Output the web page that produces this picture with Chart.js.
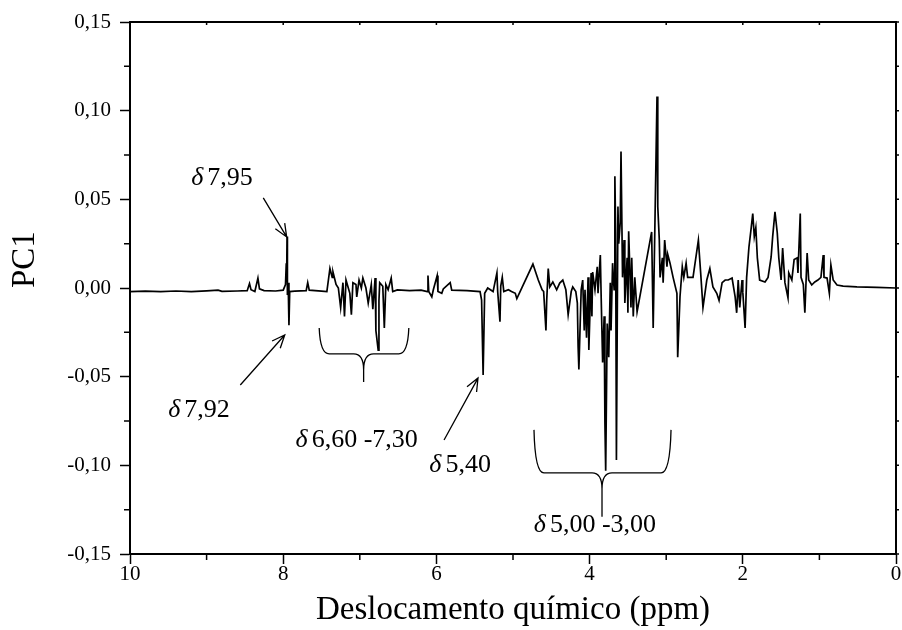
<!DOCTYPE html>
<html>
<head>
<meta charset="utf-8">
<script src="https://cdn.jsdelivr.net/npm/chart.js@4.4.0/dist/chart.umd.min.js"></script>
<style>
  html, body { margin: 0; padding: 0; background: #fff; }
</style>
</head>
<body>
<canvas id="myChart" width="902" height="630"></canvas>
<script>
// chemical shift (ppm) and PC1 loading
const ppm = [
  10.00, 9.80, 9.60, 9.40, 9.20, 9.00, 8.85, 8.80, 8.60, 8.47, 8.44, 8.42, 8.37, 8.33, 8.31, 8.25, 8.10,
  8.00, 7.97, 7.96, 7.955, 7.950, 7.945, 7.935, 7.925, 7.915, 7.85, 7.70, 7.68, 7.66, 7.50, 7.43,
  7.39, 7.36, 7.35, 7.31, 7.28, 7.25, 7.22, 7.20, 7.18, 7.15, 7.13, 7.11, 7.09, 7.05, 7.04, 7.01,
  6.98, 6.96, 6.92, 6.89, 6.85, 6.83, 6.80, 6.79, 6.76, 6.75, 6.74, 6.70, 6.68, 6.66, 6.63, 6.59,
  6.57, 6.51, 6.35, 6.20, 6.12, 6.11, 6.10, 6.06, 6.04, 5.99, 5.98, 5.93, 5.91, 5.82, 5.80, 5.60,
  5.43, 5.41, 5.39, 5.37, 5.33, 5.26, 5.21, 5.20, 5.17, 5.16, 5.14, 5.12, 5.06, 5.02, 4.97, 4.95,
  4.74, 4.67, 4.62, 4.60, 4.57, 4.56, 4.54, 4.52, 4.48, 4.43, 4.39, 4.35, 4.31, 4.28, 4.24, 4.22,
  4.18, 4.16, 4.15, 4.14, 4.11, 4.09, 4.07, 4.06, 4.04, 4.02, 4.01, 3.98, 3.97, 3.96, 3.93, 3.90,
  3.89, 3.86, 3.85, 3.83, 3.81, 3.80, 3.79, 3.77, 3.75, 3.73, 3.72, 3.70, 3.68, 3.67, 3.66, 3.65,
  3.63, 3.62, 3.60, 3.59, 3.57, 3.55, 3.54, 3.51, 3.50, 3.49, 3.46, 3.45, 3.43, 3.41, 3.38,
  3.19, 3.17, 3.15, 3.12, 3.11, 3.09, 3.08, 3.05, 3.04, 3.02, 2.99, 2.98, 2.95, 2.91, 2.86, 2.85,
  2.82, 2.79, 2.77, 2.74, 2.72, 2.65, 2.58, 2.55, 2.52, 2.47, 2.43, 2.39, 2.34, 2.31, 2.27, 2.23,
  2.19, 2.14, 2.10, 2.08, 2.06, 2.04, 2.01, 2.00, 1.97, 1.95, 1.92, 1.89, 1.87, 1.85, 1.83, 1.81,
  1.78, 1.71, 1.67, 1.63, 1.61, 1.58, 1.55, 1.53, 1.50, 1.48, 1.45, 1.41, 1.40, 1.36, 1.33, 1.29,
  1.28, 1.25, 1.24, 1.21, 1.19, 1.16, 1.14, 1.10, 1.06, 1.02, 0.98, 0.95, 0.94, 0.90, 0.87, 0.85,
  0.82, 0.77, 0.69, 0.51, 0.25, 0.00
];
const pc1 = [
  -0.0020, -0.0018, -0.0021, -0.0017, -0.0020, -0.0016, -0.0012, -0.0019, -0.0017, -0.0015, 0.0025, -0.0010, -0.0020, 0.0056, -0.0005, -0.0015, -0.0017,
  -0.0012, 0.0020, 0.0140, 0.0050, 0.0290, -0.0040, 0.0030, -0.0210, -0.0020, -0.0018, -0.0015, 0.0030, -0.0012, -0.0018, -0.0020,
  0.0110, 0.0060, 0.0090, 0.0020, 0.0000, -0.0110, 0.0030, -0.0160, 0.0045, 0.0000, -0.0030, -0.0150, 0.0030, 0.0020, -0.0050, 0.0045,
  0.0000, 0.0056, 0.0000, -0.0085, 0.0020, -0.0120, 0.0056, -0.0240, -0.0350, -0.0070, 0.0030, 0.0010, -0.0225, 0.0020, -0.0010, 0.0056,
  -0.0020, -0.0011, -0.0015, -0.0012, -0.0020, 0.0070, -0.0020, -0.0050, -0.0010, 0.0070, -0.0020, -0.0030, -0.0005, 0.0030, -0.0012, -0.0015,
  -0.0020, -0.0068, -0.0490, -0.0030, 0.0000, -0.0020, 0.0085, -0.0020, -0.0190, 0.0011, 0.0060, -0.0020, -0.0010, -0.0020, -0.0030, -0.0060,
  0.0135, 0.0045, -0.0010, -0.0020, -0.0240, -0.0070, 0.0110, 0.0006, 0.0034, -0.0010, 0.0028, 0.0045, -0.0010, -0.0150, -0.0020, 0.0006,
  -0.0020, -0.0085, -0.0330, -0.0460, -0.0010, 0.0045, -0.0240, -0.0010, -0.0280, 0.0060, -0.0350, 0.0085, -0.0160, 0.0090, -0.0010, 0.0120,
  -0.0030, 0.0186, -0.0030, -0.0420, -0.0160, -0.0760, -0.1030, -0.0200, -0.0390, 0.0030, -0.0240, 0.0140, -0.0010, 0.0630, 0.0310, -0.0970,
  0.0460, 0.0250, 0.0370, 0.0770, 0.0060, 0.0270, -0.0085, 0.0170, -0.0140, 0.0320, -0.0110, 0.0170, -0.0160, 0.0060, -0.0135,
  0.0316, -0.0225, 0.0290, 0.1080, 0.0460, 0.0270, 0.0060, 0.0170, 0.0030, 0.0270, 0.0120, 0.0190, 0.0140, 0.0060, -0.0030, -0.0390,
  -0.0050, 0.0120, 0.0060, 0.0140, 0.0060, 0.0060, 0.0270, 0.0085, -0.0110, 0.0045, 0.0110, 0.0006, -0.0030, -0.0070, 0.0030, 0.0045,
  0.0045, 0.0056, -0.0050, -0.0140, 0.0045, -0.0110, 0.0045, -0.0023, -0.0225, 0.0060, 0.0230, 0.0340, 0.0420, 0.0290, 0.0340, 0.0170,
  0.0045, 0.0034, 0.0060, 0.0175, 0.0290, 0.0430, 0.0310, 0.0170, 0.0045, 0.0225, 0.0030, -0.0056, 0.0085, 0.0045, 0.0160, 0.0170,
  0.0085, 0.0420, 0.0060, 0.0020, -0.0140, 0.0197, 0.0045, 0.0017, 0.0034, 0.0045, 0.0060, 0.0186, 0.0060, 0.0056, -0.0030, 0.0130,
  0.0045, 0.0017, 0.0011, 0.0006, 0.0003, 0.0000
];

const xTicks = [10, 8, 6, 4, 2, 0];
const xMinor = [9, 7, 5, 3, 1];
const yTicks = [-0.15, -0.10, -0.05, 0, 0.05, 0.10, 0.15];
const yMinor = [-0.125, -0.075, -0.025, 0.025, 0.075, 0.125];

// annotations, in data units (ppm, PC1)
const arrowFrom = [[8.26, 0.0508], [8.56, -0.0547], [5.90, -0.0857]];
const arrowTo   = [[7.955, 0.0288], [7.98, -0.0265], [5.457, -0.0508]];
const labelText = ['7,95', '7,92', '6,60 -7,30', '5,40', '5,00 -3,00'];
const labelPos  = [[8.80, 0.062], [9.10, -0.0688], [7.04, -0.0857], [5.69, -0.0998], [3.93, -0.1337]];
// braces: [left ppm, right ppm, centre ppm, top, bar, tip]
const braces = [[7.53, 6.36, 6.95, -0.0226, -0.0372, -0.0530], [4.726, 2.937, 3.838, -0.0800, -0.1043, -0.1290]];

const serif = '"Liberation Serif", "DejaVu Serif", serif';

const decor = {
  id: 'decor',
  afterDraw(chart) {
    const ctx = chart.ctx;
    const xs = chart.scales.x, ys = chart.scales.y;
    const a = chart.chartArea;
    const px = v => xs.getPixelForValue(v);
    const py = v => ys.getPixelForValue(v);
    ctx.save();
    ctx.strokeStyle = '#000';
    ctx.lineWidth = 2;
    ctx.strokeRect(a.left, a.top, a.right - a.left, a.bottom - a.top);

    // minor ticks + small mirrored ticks on top / right
    ctx.lineWidth = 1.5;
    ctx.beginPath();
    xMinor.forEach(v => { ctx.moveTo(px(v), a.bottom); ctx.lineTo(px(v), a.bottom + 6); });
    yMinor.forEach(v => { ctx.moveTo(a.left, py(v)); ctx.lineTo(a.left - 6, py(v)); });
    yTicks.concat(yMinor).forEach(v => { ctx.moveTo(a.right, py(v)); ctx.lineTo(a.right + 3, py(v)); });
    xTicks.concat(xMinor).forEach(v => { ctx.moveTo(px(v), a.top); ctx.lineTo(px(v), a.top + 3); });
    ctx.stroke();

    // arrows
    ctx.lineWidth = 1.3;
    arrowFrom.forEach((f, i) => {
      const x1 = px(f[0]), y1 = py(f[1]);
      const x2 = px(arrowTo[i][0]), y2 = py(arrowTo[i][1]);
      const ang = Math.atan2(y2 - y1, x2 - x1);
      ctx.beginPath();
      ctx.moveTo(x1, y1); ctx.lineTo(x2, y2);
      ctx.moveTo(x2 - 14 * Math.cos(ang - 0.4), y2 - 14 * Math.sin(ang - 0.4));
      ctx.lineTo(x2, y2);
      ctx.lineTo(x2 - 14 * Math.cos(ang + 0.4), y2 - 14 * Math.sin(ang + 0.4));
      ctx.stroke();
    });

    // braces
    braces.forEach(b => {
      const L = px(b[0]), R = px(b[1]), C = px(b[2]);
      const top = py(b[3]), bar = py(b[4]), tip = py(b[5]);
      ctx.beginPath();
      ctx.moveTo(L, top);
      ctx.quadraticCurveTo(L + 1, bar, L + 10, bar);
      ctx.lineTo(C - 10, bar);
      ctx.quadraticCurveTo(C, bar, C, bar + 16);
      ctx.lineTo(C, tip);
      ctx.moveTo(C, bar + 16);
      ctx.quadraticCurveTo(C, bar, C + 10, bar);
      ctx.lineTo(R - 10, bar);
      ctx.quadraticCurveTo(R - 1, bar, R, top);
      ctx.stroke();
    });

    // labels
    ctx.fillStyle = '#000';
    ctx.textBaseline = 'middle';
    ctx.textAlign = 'left';
    labelText.forEach((t, i) => {
      const cx = px(labelPos[i][0]), cy = py(labelPos[i][1]);
      ctx.font = 'italic 26px ' + serif;
      const wd = ctx.measureText('δ').width + 4;
      ctx.font = '26px ' + serif;
      const wt = ctx.measureText(t).width;
      const x0 = cx - (wd + wt) / 2;
      ctx.font = 'italic 26px ' + serif;
      ctx.fillText('δ', x0, cy);
      ctx.font = '26px ' + serif;
      ctx.fillText(t, x0 + wd, cy);
    });

    // y axis title
    ctx.save();
    ctx.translate(25, py(0.016));
    ctx.rotate(-Math.PI / 2);
    ctx.textAlign = 'center';
    ctx.font = '33px ' + serif;
    ctx.fillText('PC1', 0, 0);
    ctx.restore();
    ctx.restore();
  }
};

const ctx = document.getElementById('myChart');
new Chart(ctx, {
  type: 'line',
  data: {
    datasets: [{
      data: ppm.map((x, i) => ({ x: x, y: pc1[i] })),
      borderColor: '#000',
      borderWidth: 1.7,
      pointRadius: 0,
      tension: 0,
      fill: false
    }]
  },
  options: {
    responsive: false,
    animation: false,
    layout: { padding: { top: 22, right: 6, left: 0, bottom: 0 } },
    plugins: { legend: { display: false }, tooltip: { enabled: false } },
    scales: {
      x: {
        type: 'linear',
        reverse: true,
        min: 0,
        max: 10,
        afterBuildTicks: s => { s.ticks = xTicks.map(v => ({ value: v })); },
        afterFit: s => { s.height = 76; },
        ticks: {
          color: '#000',
          font: { family: serif, size: 21 },
          padding: -2,
          maxRotation: 0,
          callback: v => String(v)
        },
        grid: { drawOnChartArea: false, tickLength: 10, tickWidth: 1.5, tickColor: '#000' },
        border: { color: '#000', width: 2 },
        title: {
          display: true,
          text: 'Deslocamento químico (ppm)',
          color: '#000',
          font: { family: serif, size: 33 },
          padding: { top: 0, bottom: 0 }
        }
      },
      y: {
        type: 'linear',
        min: -0.15,
        max: 0.15,
        afterBuildTicks: s => { s.ticks = yTicks.map(v => ({ value: v })); },
        afterFit: s => { s.width = 130; },
        ticks: {
          color: '#000',
          font: { family: serif, size: 21 },
          padding: 9,
          callback: v => (Math.abs(v) < 1e-9 ? 0 : v).toFixed(2).replace('.', ',')
        },
        grid: { drawOnChartArea: false, tickLength: 10, tickWidth: 1.5, tickColor: '#000' },
        border: { color: '#000', width: 2 },
        title: { display: false }
      }
    }
  },
  plugins: [decor]
});
</script>
</body>
</html>
